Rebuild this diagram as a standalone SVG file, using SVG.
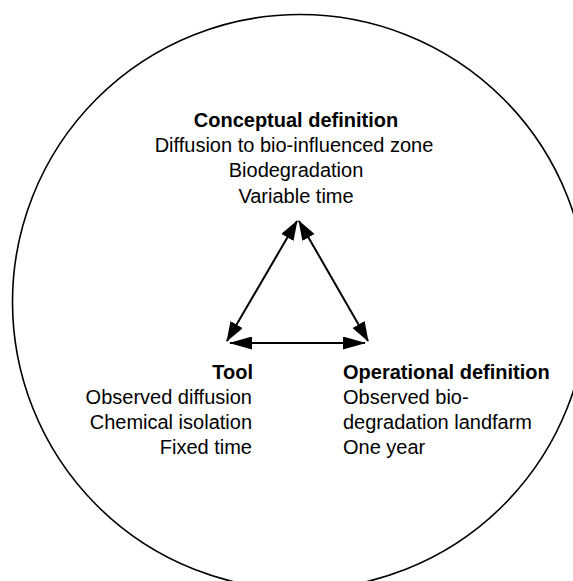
<svg xmlns="http://www.w3.org/2000/svg" width="573" height="581" viewBox="0 0 573 581">
<style>
text{font-family:"Liberation Sans",Arial,sans-serif;font-size:20px;fill:#000}
.b{font-weight:bold}
.c{text-anchor:middle}
.r{text-anchor:end}
.conn line{stroke:#000;stroke-width:2;fill:none}
</style>
<defs>
<marker id="ah" viewBox="0 0 20 14" refX="19" refY="7" markerWidth="20" markerHeight="14" markerUnits="userSpaceOnUse" orient="auto-start-reverse">
<path d="M0,0 L20,7 L0,14 z" fill="#000"/>
</marker>
<marker id="ahh" viewBox="0 0 23 13" refX="22" refY="6.5" markerWidth="23" markerHeight="13" markerUnits="userSpaceOnUse" orient="auto-start-reverse">
<path d="M0,0 L23,6.5 L0,13 z" fill="#000"/>
</marker>
</defs>
<rect width="573" height="581" fill="#fff"/>
<g id="boundary">
<circle cx="300" cy="302" r="287.5" fill="none" stroke="#000" stroke-width="1.6"/>
</g>
<g id="conceptual">
<text class="b c" x="296" y="127">Conceptual definition</text>
<text class="c" x="294" y="152">Diffusion to bio-influenced zone</text>
<text class="c" x="296" y="177">Biodegradation</text>
<text class="c" x="296" y="203">Variable time</text>
</g>
<g id="tool">
<text class="b r" x="253" y="379">Tool</text>
<text class="r" x="252" y="404">Observed diffusion</text>
<text class="r" x="252" y="429">Chemical isolation</text>
<text class="r" x="252" y="454">Fixed time</text>
</g>
<g id="operational">
<text class="b" x="343" y="379">Operational definition</text>
<text x="343" y="404">Observed bio-</text>
<text x="343" y="429">degradation landfarm</text>
<text x="343" y="454">One year</text>
</g>
<g class="conn" id="connectors">
<line x1="297" y1="221" x2="227" y2="341" marker-start="url(#ah)" marker-end="url(#ah)"/>
<line x1="299" y1="221" x2="368" y2="341" marker-start="url(#ah)" marker-end="url(#ah)"/>
<line x1="230" y1="343" x2="365" y2="343" marker-start="url(#ahh)" marker-end="url(#ahh)"/>
</g>
</svg>
